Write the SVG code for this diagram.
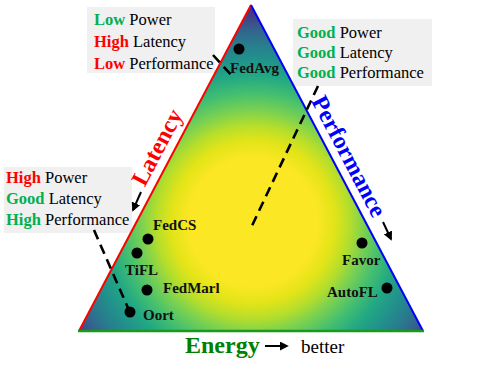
<svg xmlns="http://www.w3.org/2000/svg" width="478" height="366" viewBox="0 0 478 366">
<style>
.box{fill:#f0f0f0}
.bt{font-family:"Liberation Serif","Times New Roman",serif;font-size:16.5px;fill:#000}
.g{fill:#00b050;font-weight:bold}
.r{fill:#ff0000;font-weight:bold}
.lbl{font-family:"Liberation Serif","Times New Roman",serif;font-size:15px;font-weight:bold;fill:#111}
.dot{fill:#000}
.dash{fill:none;stroke:#000;stroke-width:2.6;stroke-dasharray:10,6}
.arr{fill:none;stroke:#000;stroke-width:2;marker-end:url(#ah)}
.axis{font-family:"Liberation Serif","Times New Roman",serif;font-size:24px;font-weight:bold}
</style>
<defs>
<radialGradient id="vir" gradientUnits="userSpaceOnUse" cx="253" cy="222" r="215">
<stop offset="0" stop-color="#fde725"/>
<stop offset="0.3" stop-color="#fbe723"/>
<stop offset="0.38" stop-color="#e2e418"/>
<stop offset="0.45" stop-color="#b5de2b"/>
<stop offset="0.52" stop-color="#7ad151"/>
<stop offset="0.6" stop-color="#44bf70"/>
<stop offset="0.68" stop-color="#22a884"/>
<stop offset="0.76" stop-color="#21918c"/>
<stop offset="0.84" stop-color="#2a788e"/>
<stop offset="0.9" stop-color="#355f8d"/>
<stop offset="0.95" stop-color="#414487"/>
<stop offset="1" stop-color="#472d7b"/>
</radialGradient>
<marker id="ah" viewBox="0 0 10 10" refX="8" refY="5" markerWidth="4.5" markerHeight="4.5" orient="auto" markerUnits="strokeWidth">
<path d="M0,0 L10,5 L0,10 z" fill="#000"/>
</marker>
</defs>

<g id="box-fedavg">
<rect class="box" x="87" y="7" width="128" height="66"/>
<text class="bt" x="94" y="25"><tspan class="g">Low</tspan> Power</text>
<text class="bt" x="94" y="47"><tspan class="r">High</tspan> Latency</text>
<text class="bt" x="94" y="69"><tspan class="r">Low</tspan> Performance</text>
</g>
<g id="box-center">
<rect class="box" x="293" y="19" width="139" height="67"/>
<text class="bt" x="297" y="38"><tspan class="g">Good</tspan> Power</text>
<text class="bt" x="297" y="58"><tspan class="g">Good</tspan> Latency</text>
<text class="bt" x="297" y="78"><tspan class="g">Good</tspan> Performance</text>
</g>
<g id="box-oort">
<rect class="box" x="4" y="167" width="128" height="66"/>
<text class="bt" x="6" y="183"><tspan class="r">High</tspan> Power</text>
<text class="bt" x="6" y="204"><tspan class="g">Good</tspan> Latency</text>
<text class="bt" x="6" y="225"><tspan class="g">High</tspan> Performance</text>
</g>

<g id="triangle">
<polygon points="251,5 79,331 423,331" fill="url(#vir)"/>
<line x1="251" y1="5" x2="79" y2="331" stroke="#ff0000" stroke-width="2"/>
<line x1="251" y1="5" x2="423" y2="331" stroke="#0000ff" stroke-width="2"/>
<line x1="78" y1="331" x2="424" y2="331" stroke="#1a9a1a" stroke-width="2.5"/>
</g>

<g id="connectors">
<line class="dash" x1="213" y1="55" x2="233" y2="77"/>
<line class="dash" x1="318" y1="86" x2="250" y2="230"/>
<line class="dash" x1="94" y1="230" x2="128" y2="308"/>
<line class="arr" x1="141" y1="192" x2="133" y2="210"/>
<line class="arr" x1="383" y1="222" x2="391" y2="239"/>
<line class="arr" x1="265" y1="346" x2="287" y2="346"/>
</g>

<g id="axis-labels">
<text class="axis" fill="#ff0000" text-anchor="middle" transform="translate(164,151) rotate(-62.25)">Latency</text>
<text class="axis" fill="#0000ff" text-anchor="middle" transform="translate(342,160) rotate(62.25)">Performance</text>
<text class="axis" fill="#008000" x="185" y="353">Energy</text>
<text font-family="'Liberation Serif','Times New Roman',serif" font-size="19px" fill="#000" x="301" y="353">better</text>
</g>

<g id="node-fedavg"><circle class="dot" cx="239" cy="49" r="5.5"/><text class="lbl" x="230" y="73">FedAvg</text></g>
<g id="node-fedcs"><circle class="dot" cx="148" cy="239" r="5.5"/><text class="lbl" x="153" y="230">FedCS</text></g>
<g id="node-tifl"><circle class="dot" cx="137" cy="253" r="5.5"/><text class="lbl" x="125" y="275">TiFL</text></g>
<g id="node-fedmarl"><circle class="dot" cx="147" cy="290" r="5.5"/><text class="lbl" x="163" y="293">FedMarl</text></g>
<g id="node-oort"><circle class="dot" cx="130" cy="312" r="5.5"/><text class="lbl" x="143" y="320">Oort</text></g>
<g id="node-favor"><circle class="dot" cx="362" cy="243" r="5.5"/><text class="lbl" x="342" y="265">Favor</text></g>
<g id="node-autofl"><circle class="dot" cx="387" cy="288" r="5.5"/><text class="lbl" x="327" y="297">AutoFL</text></g>
</svg>
